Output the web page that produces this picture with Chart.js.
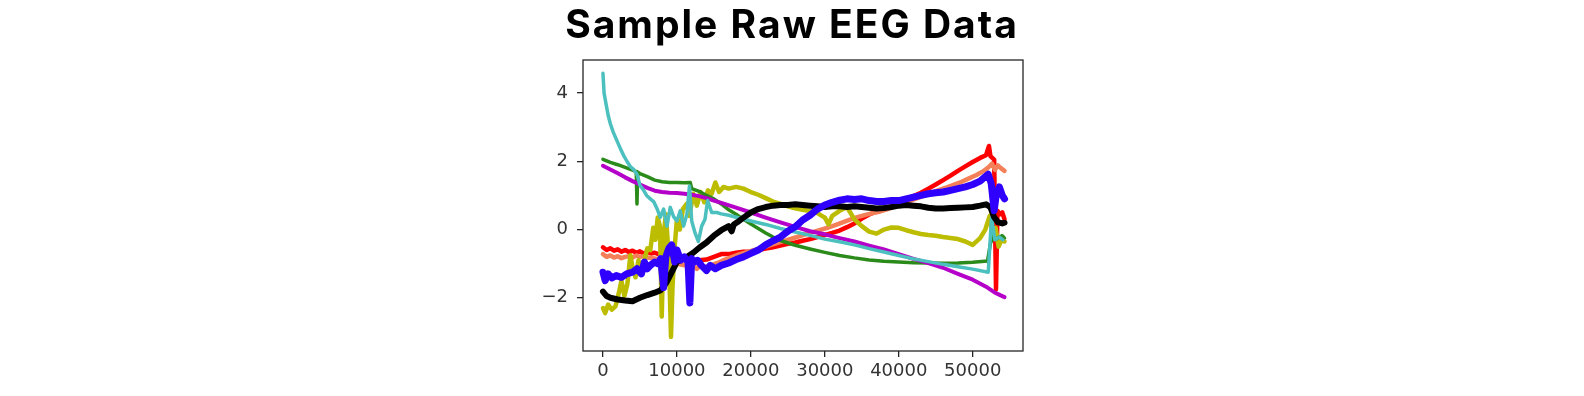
<!DOCTYPE html>
<html>
<head>
<meta charset="utf-8">
<script src="https://cdn.jsdelivr.net/npm/chart.js@4.4.1/dist/chart.umd.min.js"></script>
<style>
  html, body { margin: 0; padding: 0; background: #fff; }
  #wrap { position: relative; width: 1584px; height: 396px; }
  #eeg { position: absolute; left: 0; top: 0; }
  #title {
    position: absolute; left: 0; top: 4px; width: 1584px; text-align: center;
    font-family: 'Inter', sans-serif; font-weight: 700; font-size: 39px;
    letter-spacing: 2px; line-height: 1; color: #000;
  }
</style>
</head>
<body>
<div id="wrap">
  <canvas id="eeg" width="1584" height="396"></canvas>
  <div id="title">Sample Raw EEG Data</div>
</div>
<script>
// sample index (x) and value (y) per channel
const blueX = [0, 300, 700, 1200, 1800, 2500, 3200, 4000, 4600, 5200,
  5600, 6000, 6400, 7000, 7400, 7800, 8200, 8500, 8900, 9300,
  9700, 10000, 10500, 11000, 11500, 11750, 12000, 12300, 12800, 13300,
  14000, 14500, 15200, 16000, 17000, 18000, 19000, 20000, 21000, 22000,
  23000, 24000, 25000, 26000, 27000, 28000, 29000, 30000, 31000, 32000,
  33000, 34000, 35000, 36000, 37000, 38000, 39000, 40000, 41000, 42000,
  43000, 44000, 45000, 46000, 47000, 48000, 49000, 50000, 51000,
  51700, 52100, 52500, 52900, 53200, 53600, 54000, 54300];
const blueY = [-1.25, -1.5, -1.3, -1.42, -1.35, -1.4, -1.3, -1.25, -1.15, -1.3,
  -0.95, -1.15, -1.05, -0.95, -1.0, -0.85, -1.7, -0.8, -0.55, -0.45,
  -0.95, -0.6, -0.9, -0.8, -0.95, -2.15, -0.85, -0.95, -0.9, -1.05,
  -1.2, -1.05, -1.15, -1.05, -0.98, -0.88, -0.8, -0.7, -0.6, -0.45,
  -0.33, -0.22, -0.05, 0.08, 0.28, 0.42, 0.6, 0.72, 0.8, 0.86,
  0.9, 0.88, 0.9, 0.85, 0.82, 0.82, 0.85, 0.85, 0.9, 0.95,
  1.0, 1.05, 1.08, 1.1, 1.15, 1.2, 1.25, 1.32, 1.42,
  1.55, 1.62, 1.35, 0.55, 1.05, 1.25, 1.0, 0.9];

const blackX = [0, 500, 1000, 2000, 3000, 4000, 5000, 6000, 7000, 7800,
  8600, 9300, 10000, 10800, 11500, 12200, 13100, 14000, 15000, 16000,
  17000, 17400, 17700, 18200, 19000, 20000, 21000, 22000, 23000, 24000,
  25000, 26000, 27000, 28000, 29000, 30000, 31000, 32000, 33000, 34000,
  35000, 36000, 37000, 38000, 39000, 40000, 41000, 42000, 43000, 44000,
  45000, 46000, 47000, 48000, 49000, 50000, 51000,
  51800, 52400, 52900, 53400, 54000, 54300];
const blackY = [-1.82, -1.95, -2.0, -2.05, -2.08, -2.1, -2.0, -1.92, -1.85, -1.78,
  -1.55, -1.25, -0.95, -0.85, -0.78, -0.68, -0.52, -0.38, -0.18, -0.02,
  0.1, -0.05, 0.15, 0.22, 0.35, 0.5, 0.6, 0.66, 0.7, 0.72,
  0.72, 0.74, 0.72, 0.7, 0.68, 0.66, 0.68, 0.68, 0.66, 0.68,
  0.66, 0.64, 0.62, 0.63, 0.66, 0.7, 0.72, 0.7, 0.68, 0.64,
  0.62, 0.62, 0.63, 0.64, 0.65, 0.66, 0.7,
  0.74, 0.65, 0.36, 0.22, 0.18, 0.2];

const cyanX = [0, 150, 400, 700, 1000, 1400, 1900, 2400, 2800, 3300,
  3700, 4200, 4600, 5000, 5500, 5900, 6400, 6850, 7300, 7750,
  8200, 8650, 9100, 9550, 10000, 10450, 10900, 11350, 11700, 12000,
  12450, 12900, 13350, 13800, 14150, 14700, 15400, 16000, 17000, 18000,
  20000, 22000, 24000, 26000, 28000, 30000, 32000, 34000, 36000, 38000,
  40000, 42000, 44000, 46000, 48000, 50000,
  52100, 52550, 53000, 53600, 54100];
const cyanY = [4.58, 4.0, 3.7, 3.35, 3.1, 2.85, 2.6, 2.35, 2.17, 1.98,
  1.85, 1.75, 1.62, 1.3, 1.15, 1.0, 0.9, 0.82, 0.62, 0.36,
  0.6, 0.1, 0.65, 0.38, 0.25, 0.55, 0.1, 0.45, 1.28, 0.25,
  -0.1, -0.35, 0.1, 0.3, 0.85, 0.5, 0.5, 0.46, 0.42, 0.36,
  0.25, 0.15, 0.03, -0.07, -0.17, -0.28, -0.36, -0.45, -0.56, -0.66,
  -0.76, -0.86, -0.94, -1.02, -1.09, -1.16,
  -1.25, 0.35, -0.3, -0.22, -0.3];

const magentaX = [0, 1000, 2000, 3000, 4000, 5000, 6000, 7000, 8000, 9000,
  10000, 11000, 12000, 13000, 14000, 15000, 16000, 18000, 20000, 22000,
  24000, 26000, 28000, 30000, 32000, 34000, 36000, 38000, 40000, 42000,
  44000, 46000, 48000, 50000, 52000, 53000, 54000, 54300];
const magentaY = [1.87, 1.76, 1.65, 1.53, 1.42, 1.32, 1.22, 1.14, 1.1, 1.08,
  1.07, 1.05, 1.02, 0.98, 0.92, 0.85, 0.78, 0.64, 0.5, 0.35,
  0.21, 0.08, -0.05, -0.14, -0.25, -0.35, -0.47, -0.58, -0.72, -0.86,
  -0.98, -1.12, -1.3, -1.47, -1.7, -1.85, -1.95, -1.98];

const greenX = [0, 1000, 2000, 3000, 4000, 4500, 4600, 4700, 5000, 6000,
  7000, 8000, 9000, 10000, 11000, 11800, 12000, 13000, 14000, 15000,
  16000, 17000, 18000, 19000, 20000, 21000, 22000, 23000, 24000, 26000,
  28000, 30000, 32000, 34000, 36000, 38000, 40000, 42000, 44000, 46000,
  48000, 50000, 52000, 52400, 52800, 53200, 53600, 54000, 54300];
const greenY = [2.06, 1.97, 1.9, 1.82, 1.74, 1.7, 0.75, 1.68, 1.64, 1.55,
  1.45, 1.4, 1.38, 1.38, 1.37, 1.38, 1.2, 1.12, 1.0, 0.9,
  0.75, 0.58, 0.45, 0.3, 0.16, 0.03, -0.1, -0.22, -0.32, -0.46,
  -0.57, -0.67, -0.76, -0.83, -0.89, -0.93, -0.95, -0.97, -0.98, -0.99,
  -0.98, -0.96, -0.92, -0.4, -0.2, -0.28, -0.22, -0.18, -0.25];

const yellowX = [0, 300, 700, 1200, 1700, 2200, 2500, 2900, 3300, 3700,
  4000, 4400, 4800, 5200, 5600, 6000, 6400, 6800, 7100, 7400,
  7700, 7950, 8200, 8500, 8800, 9000, 9200, 9400, 9700, 10000,
  10400, 10800, 11300, 11700, 12200, 12700, 13200, 13700, 14200, 14700,
  15200, 15700, 16300, 17000, 18000, 19000, 20000, 21000, 22000, 23000,
  24000, 25000, 26000, 27000, 28000, 29000, 30000, 30500, 31000, 32000,
  33000, 34000, 35000, 36000, 37000, 38000, 39000, 40000, 41000, 42000,
  43000, 44000, 45000, 46000, 47000, 48000, 49000, 50000, 51000, 51700,
  52300, 52700, 53100, 53500, 53900, 54300];
const yellowY = [-2.3, -2.45, -2.2, -2.35, -2.25, -1.8, -1.5, -1.95, -1.6, -0.75,
  -1.1, -1.4, -0.9, -1.2, -0.9, -0.55, -0.6, 0.05, -0.3, 0.35,
  0.1, -2.55, -0.2, 0.45, -0.5, -1.5, -3.15, -1.7, -0.5, 0.3,
  0.0, 0.6, 0.75, 0.4, 1.05, 0.7, 1.1, 0.8, 1.15, 1.05,
  1.38, 1.1, 1.25, 1.2, 1.25, 1.2, 1.1, 1.02, 0.92, 0.82,
  0.75, 0.68, 0.62, 0.58, 0.54, 0.48, 0.35, 0.15, 0.4, 0.55,
  0.66, 0.3, 0.1, -0.06, -0.12, 0.0, 0.06, 0.05, -0.02, -0.08,
  -0.13, -0.16, -0.18, -0.22, -0.25, -0.28, -0.35, -0.45, -0.25, 0.0,
  0.4, -0.2, 0.05, -0.5, -0.3, -0.35];

const salmonX = [0, 500, 1000, 1500, 2000, 2500, 3000, 3500, 4000, 4500,
  5000, 5500, 6000, 7000, 8000, 9000, 10000, 11000, 12000, 12700,
  13200, 13700, 14500, 15500, 16500, 17500, 18500, 19500, 20500, 21500,
  22500, 23500, 24500, 25500, 26500, 27500, 28500, 29500, 30500, 31500,
  32500, 33500, 34500, 35500, 36500, 37500, 38500, 39500, 40500, 41500,
  42500, 43500, 44500, 45500, 46500, 47500, 48500, 49500, 50500, 51500,
  52100, 52600, 53000, 53400, 53800, 54300];
const salmonY = [-0.72, -0.8, -0.76, -0.82, -0.78, -0.84, -0.8, -0.78, -0.82, -0.76,
  -0.8, -0.78, -0.82, -0.85, -0.9, -0.95, -1.0, -1.05, -1.0, -1.15,
  -1.05, -1.1, -1.05, -0.98, -0.88, -0.8, -0.72, -0.66, -0.6, -0.53,
  -0.46, -0.4, -0.33, -0.27, -0.2, -0.13, -0.07, 0.0, 0.06, 0.14,
  0.22, 0.3, 0.37, 0.43, 0.48, 0.53, 0.6, 0.68, 0.76, 0.84,
  0.92, 1.0, 1.08, 1.16, 1.24, 1.32, 1.4, 1.5, 1.6, 1.72,
  1.82, 1.93, 1.75, 1.88, 1.8, 1.72];

const redX = [0, 500, 1000, 1500, 2000, 2500, 3000, 3500, 4000, 4500,
  5000, 5500, 6000, 6500, 7000, 7500, 8000, 9000, 10000, 11000,
  12000, 13000, 14000, 15000, 16000, 17000, 18000, 19000, 20000, 21000,
  22000, 23000, 24000, 25000, 26000, 27000, 28000, 29000, 30000, 31000,
  32000, 33000, 34000, 35000, 36000, 37000, 38000, 39000, 40000, 41000,
  42000, 43000, 44000, 45000, 46000, 47000, 48000, 49000, 50000, 51000,
  51800, 52200, 52400, 52900, 53150, 53350, 53700, 54000, 54300];
const redY = [-0.52, -0.6, -0.55, -0.62, -0.58, -0.65, -0.6, -0.66, -0.62, -0.68,
  -0.64, -0.7, -0.66, -0.7, -0.68, -0.72, -0.75, -0.8, -0.85, -0.9,
  -0.92, -0.9, -0.88, -0.8, -0.72, -0.72, -0.68, -0.65, -0.64, -0.6,
  -0.56, -0.52, -0.47, -0.42, -0.38, -0.33, -0.28, -0.22, -0.16, -0.1,
  -0.03, 0.07, 0.18, 0.32, 0.44, 0.53, 0.6, 0.68, 0.78, 0.88,
  0.98, 1.08, 1.2, 1.32, 1.45, 1.58, 1.72, 1.85, 1.98, 2.1,
  2.18, 2.45, 2.15, 2.05, -1.75, 0.55, 0.45, 0.5, 0.3];

const xTicks = [0, 10000, 20000, 30000, 40000, 50000];
const yTicks = [-2, 0, 2, 4];

// first dataset is drawn on top in Chart.js
const channels = [
  { label: 'blue', color: '#3000ff', width: 7, xs: blueX, ys: blueY },
  { label: 'black', color: '#000000', width: 6, xs: blackX, ys: blackY },
  { label: 'cyan', color: '#4cbfbf', width: 3.5, xs: cyanX, ys: cyanY },
  { label: 'magenta', color: '#b400c8', width: 4, xs: magentaX, ys: magentaY },
  { label: 'green', color: '#2a8a1a', width: 3.5, xs: greenX, ys: greenY },
  { label: 'yellow', color: '#bcbc00', width: 4.5, xs: yellowX, ys: yellowY },
  { label: 'salmon', color: '#f4805a', width: 4.5, xs: salmonX, ys: salmonY },
  { label: 'red', color: '#ff0000', width: 4.5, xs: redX, ys: redY }
];

const frame = {
  id: 'frame',
  afterDraw(chart) {
    const { ctx, chartArea: a } = chart;
    ctx.save();
    ctx.strokeStyle = '#262626';
    ctx.lineWidth = 1.3;
    ctx.strokeRect(a.left, a.top, a.right - a.left, a.bottom - a.top);
    ctx.restore();
  }
};

const tickFont = { family: 'DejaVu Sans', size: 18 };
const minus = v => (v < 0 ? '\u2212' + Math.abs(v) : String(v));

new Chart(document.getElementById('eeg'), {
  type: 'line',
  data: {
    datasets: channels.map(c => ({
      label: c.label,
      data: c.xs.map((x, i) => ({ x: x, y: c.ys[i] })),
      borderColor: c.color,
      borderWidth: c.width,
      borderJoinStyle: 'round',
      borderCapStyle: 'round',
      pointRadius: 0,
      tension: 0,
      fill: false
    }))
  },
  options: {
    responsive: false,
    animation: false,
    devicePixelRatio: 1,
    layout: { padding: { left: 500, right: 561, top: 60, bottom: 0 } },
    plugins: { legend: { display: false }, tooltip: { enabled: false } },
    scales: {
      x: {
        type: 'linear', min: -2700, max: 56800,
        afterBuildTicks: s => { s.ticks = xTicks.map(v => ({ value: v })); },
        afterFit: s => { s.height = 45; },
        grid: { drawOnChartArea: false, drawTicks: true, tickLength: 6, color: '#262626', lineWidth: 1.3 },
        border: { display: false },
        ticks: { font: tickFont, color: '#333', padding: 4, maxRotation: 0, callback: v => String(v) }
      },
      y: {
        type: 'linear', min: -3.56, max: 4.97,
        afterBuildTicks: s => { s.ticks = yTicks.map(v => ({ value: v })); },
        afterFit: s => { s.width = 83; },
        grid: { drawOnChartArea: false, drawTicks: true, tickLength: 6, color: '#262626', lineWidth: 1.3 },
        border: { display: false },
        ticks: { font: tickFont, color: '#333', padding: 9, callback: v => minus(v) }
      }
    }
  },
  plugins: [frame]
});
</script>
</body>
</html>
